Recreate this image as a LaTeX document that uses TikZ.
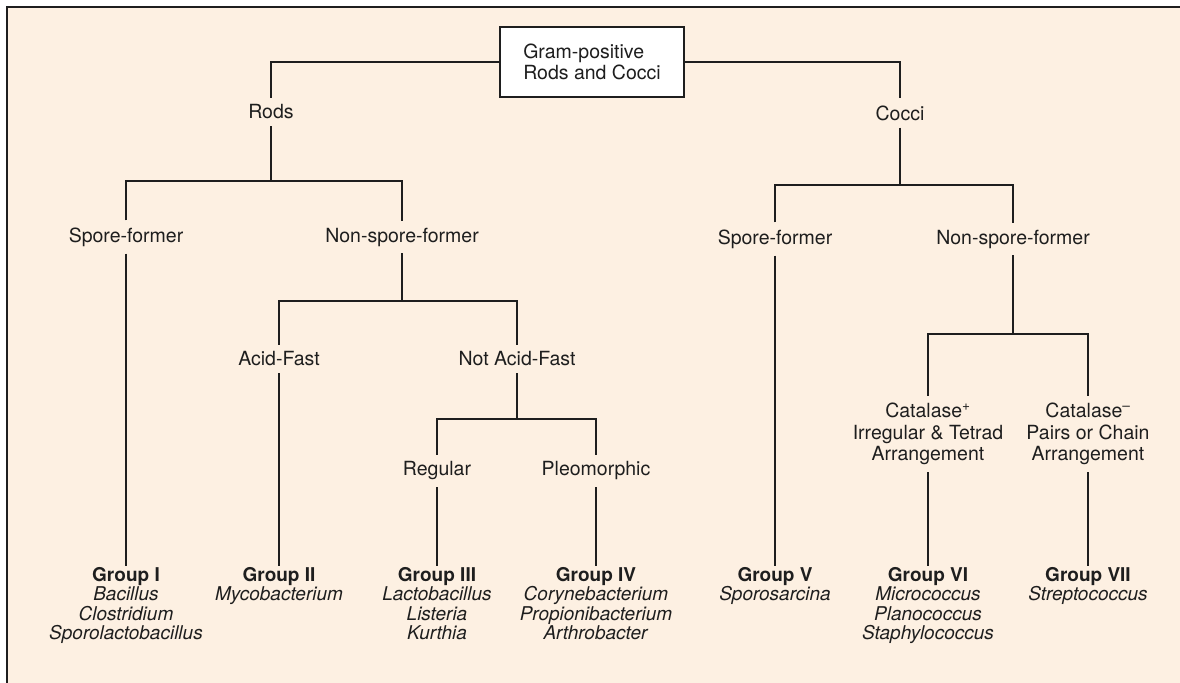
\documentclass[tikz,border=0pt]{standalone}
\usepackage{fontspec}
\setmainfont{TeX Gyre Heros}
\usetikzlibrary{positioning}
\definecolor{paper}{HTML}{FDF0E2}
\definecolor{ink}{HTML}{1E1E1E}

\begin{document}
\begin{tikzpicture}[x=1bp,y=-1bp,
  font=\fontsize{19.5bp}{21.5bp}\selectfont,
  top/.style={draw=ink,fill=white,line width=2.4bp,align=left,text=ink,
              minimum width=182bp,minimum height=70bp,inner xsep=23bp},
  lbl/.style={align=center,inner xsep=4bp,inner ysep=7bp,text=ink},
  grp/.style={align=center,anchor=north,inner sep=1bp,text=ink,
              font=\fontsize{19bp}{19.5bp}\selectfont},
  ln/.style={draw=ink,line width=2.3bp}]
\useasboundingbox (0,0) rectangle (1180,683);
\fill[paper] (7,7) rectangle (1180,683);
\draw[ink,line width=2.2bp] (7,683) -- (7,7) -- (1180,7);

\node[top] (root) at (592,62) {Gram-positive\\Rods and Cocci};
\node[lbl] (rods)  at (271,112) {Rods};
\node[lbl] (cocci) at (900,113) {Cocci};
\node[lbl] (sporeL) at (126,237) {Spore-former};
\node[lbl] (nonL)   at (402,237) {Non-spore-former};
\node[lbl] (sporeR) at (775,239) {Spore-former};
\node[lbl] (nonR)   at (1013,239) {Non-spore-former};
\node[lbl] (acid)    at (279,359) {Acid-Fast};
\node[lbl] (notacid) at (517,359) {Not Acid-Fast};
\node[lbl] (regular) at (437,471) {Regular};
\node[lbl] (pleo)    at (596,471) {Pleomorphic};
\node[lbl] (catpos) at (928,434) {Catalase\textsuperscript{+}\\Irregular \& Tetrad\\Arrangement};
\node[lbl] (catneg) at (1088,434) {Catalase\textsuperscript{\textendash}\\Pairs or Chain\\Arrangement};

\node[grp] (g1) at (126,566)  {\textbf{Group I}\\\textit{Bacillus}\\\textit{Clostridium}\\\textit{Sporolactobacillus}};
\node[grp] (g2) at (279,566)  {\textbf{Group II}\\\textit{Mycobacterium}};
\node[grp] (g3) at (437,566)  {\textbf{Group III}\\\textit{Lactobacillus}\\\textit{Listeria}\\\textit{Kurthia}};
\node[grp] (g4) at (596,566)  {\textbf{Group IV}\\\textit{Corynebacterium}\\\textit{Propionibacterium}\\\textit{Arthrobacter}};
\node[grp] (g5) at (775,566)  {\textbf{Group V}\\\textit{Sporosarcina}};
\node[grp] (g6) at (928,566)  {\textbf{Group VI}\\\textit{Micrococcus}\\\textit{Planococcus}\\\textit{Staphylococcus}};
\node[grp] (g7) at (1088,566) {\textbf{Group VII}\\\textit{Streptococcus}};

\coordinate (rbar) at (0,181);
\coordinate (abar) at (0,301);
\coordinate (nbar) at (0,419);
\coordinate (cbar) at (0,185);
\coordinate (kbar) at (0,334);

\draw[ln] (root.west) -| (rods.north);
\draw[ln] (root.east) -| (cocci.north);
\draw[ln] (rods.south) -- (rods.south|-rbar);
\draw[ln] (sporeL.north) -- (sporeL.north|-rbar) -- (nonL.north|-rbar) -- (nonL.north);
\draw[ln] (nonL.south) -- (nonL.south|-abar);
\draw[ln] (acid.north) -- (acid.north|-abar) -- (notacid.north|-abar) -- (notacid.north);
\draw[ln] (notacid.south) -- (notacid.south|-nbar);
\draw[ln] (regular.north) -- (regular.north|-nbar) -- (pleo.north|-nbar) -- (pleo.north);
\draw[ln] (cocci.south) -- (cocci.south|-cbar);
\draw[ln] (sporeR.north) -- (sporeR.north|-cbar) -- (nonR.north|-cbar) -- (nonR.north);
\draw[ln] (nonR.south) -- (nonR.south|-kbar);
\draw[ln] (catpos.north) -- (catpos.north|-kbar) -- (catneg.north|-kbar) -- (catneg.north);
\draw[ln] (sporeL.south) -- (g1.north);
\draw[ln] (acid.south) -- (g2.north);
\draw[ln] (regular.south) -- (g3.north);
\draw[ln] (pleo.south) -- (g4.north);
\draw[ln] (sporeR.south) -- (g5.north);
\draw[ln] (catpos.south) -- (g6.north);
\draw[ln] (catneg.south) -- (g7.north);
\end{tikzpicture}
\end{document}
